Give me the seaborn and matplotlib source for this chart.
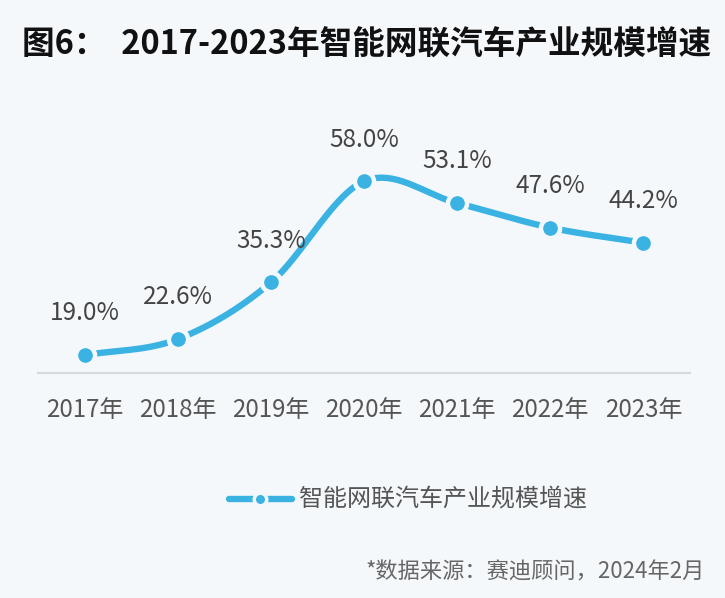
import numpy as np
import pandas as pd
import matplotlib
matplotlib.use("Agg")
import matplotlib.pyplot as plt
from matplotlib.lines import Line2D
import seaborn as sns

years = ["2017年", "2018年", "2019年", "2020年", "2021年", "2022年", "2023年"]
growth = [19.0, 22.6, 35.3, 58.0, 53.1, 47.6, 44.2]
series_name = "智能网联汽车产业规模增速"
title = "图6：  2017-2023年智能网联汽车产业规模增速"
source = "*数据来源：赛迪顾问，2024年2月"

sns.set_theme(style="white")
plt.rcParams['font.family'] = ['Noto Sans CJK SC', 'DejaVu Sans']

BG = "#F5F8FB"
BLUE = "#3AB3E3"

fig = plt.figure(figsize=(7.25, 5.98), dpi=100, facecolor=BG)
ax = fig.add_axes([38/725, (598-373)/598, 652/725, 243/598])
ax.set_facecolor(BG)

x = np.arange(len(years), dtype=float)
y = np.array(growth, dtype=float)

# smooth curve through the data points (Catmull-Rom)
def catmull(xp, yp, n=40):
    P = np.column_stack([xp, yp])
    P = np.vstack([P[0] - (P[1] - P[0]), P, P[-1] + (P[-1] - P[-2])])
    out = []
    for i in range(1, len(P) - 2):
        p0, p1, p2, p3 = P[i-1], P[i], P[i+1], P[i+2]
        t = np.linspace(0, 1, n)[:, None]
        seg = 0.5 * ((2*p1) + (-p0 + p2)*t + (2*p0 - 5*p1 + 4*p2 - p3)*t**2 + (-p0 + 3*p1 - 3*p2 + p3)*t**3)
        out.append(seg if i == len(P) - 3 else seg[:-1])
    return np.vstack(out)

curve = catmull(x, y)
df_curve = pd.DataFrame({"x": curve[:, 0], "y": curve[:, 1]})
sns.lineplot(data=df_curve, x="x", y="y", ax=ax, color=BLUE, linewidth=4.6,
             solid_capstyle="butt", sort=False, estimator=None)

df = pd.DataFrame({"x": x, "y": y})
sns.scatterplot(data=df, x="x", y="y", ax=ax, color=BLUE, s=190,
                edgecolor=BG, linewidth=3.2, zorder=5)

for xi, yi in zip(x, y):
    ax.annotate(f"{yi:.1f}%", (xi, yi), xytext=(0, 30), textcoords="offset points",
                ha="center", va="center", fontsize=17.5, color="#444444")

ax.set_xlim(-0.5, 6.5)
ax.set_ylim(15, 69.5)
ax.set_xticks(x)
ax.set_xticklabels(years, fontsize=17.3, color="#555555")
ax.tick_params(axis="x", length=0, pad=17)
ax.set_yticks([])
ax.set_xlabel("")
ax.set_ylabel("")
for s in ["top", "left", "right"]:
    ax.spines[s].set_visible(False)
ax.spines["bottom"].set_color("#D5D8DC")
ax.spines["bottom"].set_linewidth(1.5)

fig.text(22/725, 1 - 45/598, title, fontsize=23.5, fontweight="bold", color="#111111",
         ha="left", va="center")

handle = Line2D([0], [0], color=BLUE, linewidth=4.6, marker="o", markersize=9,
                markerfacecolor=BLUE, markeredgecolor=BG, markeredgewidth=2.5)
leg = fig.legend([handle], [series_name], loc="center", bbox_to_anchor=(408/725, 1 - 500/598),
                 frameon=False, fontsize=17.3, handlelength=2.6, handletextpad=0.3)
for t in leg.get_texts():
    t.set_color("#555555")

fig.text(705/725, 1 - 572/598, source, fontsize=16, color="#666666", ha="right", va="center")

fig.savefig("out.png", dpi=100, facecolor=BG)
